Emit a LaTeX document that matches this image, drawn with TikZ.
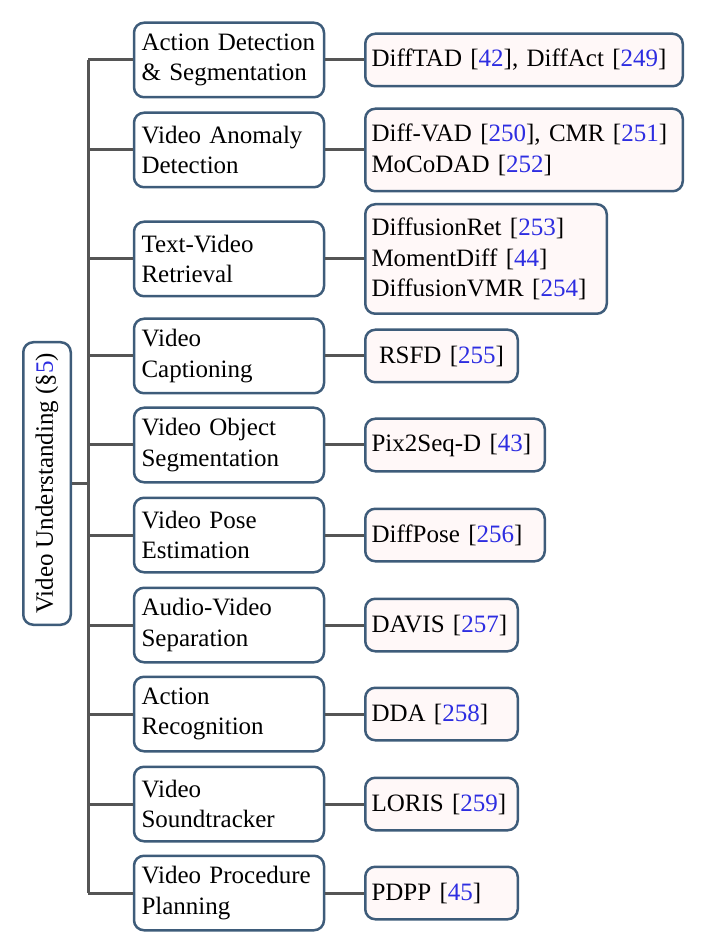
\documentclass[tikz,border=0pt]{standalone}
\usepackage{fontspec}
\setmainfont{Liberation Serif}
\usepackage{xcolor}
\usetikzlibrary{positioning}

\definecolor{boxline}{RGB}{62,92,122}
\definecolor{connline}{RGB}{85,85,85}
\definecolor{leaffill}{RGB}{255,248,248}
\definecolor{citeblue}{RGB}{45,45,225}
\newcommand{\citenum}[1]{[\textcolor{citeblue}{#1}]}

\tikzset{
	taskbox/.style={draw=boxline, line width=1pt, rounded corners=4pt, fill=white,
		align=left, text width=70pt, inner xsep=3pt, inner ysep=2pt,
		minimum height=29.8pt, font=\fontsize{10}{12.2}\selectfont},
	leafbox/.style={taskbox, fill=leaffill, inner xsep=2.5pt, minimum height=21pt, anchor=west},
	rootbox/.style={taskbox, text width=, align=center, rotate=90,
		minimum width=113pt, minimum height=19pt, inner sep=0pt},
	conn/.style={draw=connline, line width=1.2pt},
}

\begin{document}
\begin{tikzpicture}[x=0.4pt, y=-0.4pt]
	\def\trunkX{88}
	\def\taskX{229}
	\def\leafX{364}

	\useasboundingbox (0,0) rectangle (700,944);

	\node[rootbox] (root) at (47,483.5) {Video Understanding (\S\textcolor{citeblue}{5})};
	\coordinate (trunk) at (\trunkX,483.5);

	% tasks
	\begin{scope}
		\node[taskbox] (task1) at (\taskX,60) {Action Detection\\\& Segmentation};
		\node[taskbox] (task2) at (\taskX,150) {Video Anomaly\\Detection};
		\node[taskbox] (task3) at (\taskX,259) {Text-Video\\Retrieval};
		\node[taskbox] (task4) at (\taskX,356) {Video\\Captioning};
		\node[taskbox] (task5) at (\taskX,445) {Video Object\\Segmentation};
		\node[taskbox] (task6) at (\taskX,535) {Video Pose\\Estimation};
		\node[taskbox] (task7) at (\taskX,625) {Audio-Video\\Separation};
		\node[taskbox] (task8) at (\taskX,714) {Action\\Recognition};
		\node[taskbox] (task9) at (\taskX,804) {Video\\Soundtracker};
		\node[taskbox] (task10) at (\taskX,893) {Video Procedure\\Planning};
	\end{scope}

	% methods
	\begin{scope}
		\node[leafbox, text width=122pt] (leaf1) at (\leafX,60) {DiffTAD \citenum{42}, DiffAct \citenum{249}};
		\node[leafbox, text width=122pt, minimum height=33pt] (leaf2) at (\leafX,150) {Diff-VAD \citenum{250}, CMR \citenum{251}\\MoCoDAD \citenum{252}};
		\node[leafbox, text width=91.6pt, minimum height=43.8pt] (leaf3) at (\leafX,259) {DiffusionRet \citenum{253}\\MomentDiff \citenum{44}\\DiffusionVMR \citenum{254}};
		\node[leafbox, text width=56pt, align=center] (leaf4) at (\leafX,356) {RSFD \citenum{255}};
		\node[leafbox, text width=66.8pt] (leaf5) at (\leafX,445) {Pix2Seq-D \citenum{43}};
		\node[leafbox, text width=66.8pt] (leaf6) at (\leafX,535) {DiffPose \citenum{256}};
		\node[leafbox, text width=56pt] (leaf7) at (\leafX,625) {DAVIS \citenum{257}};
		\node[leafbox, text width=56pt] (leaf8) at (\leafX,714) {DDA \citenum{258}};
		\node[leafbox, text width=56pt] (leaf9) at (\leafX,804) {LORIS \citenum{259}};
		\node[leafbox, text width=56pt] (leaf10) at (\leafX,893) {PDPP \citenum{45}};
	\end{scope}

	\draw[conn] (root) -- (trunk);
	\draw[conn] (trunk |- task1.west) -- (trunk |- task10.west);
	\foreach \i in {1,...,10}
		\draw[conn] (trunk |- task\i.west) -- (task\i.west) (task\i.east) -- (leaf\i.west);
\end{tikzpicture}
\end{document}
